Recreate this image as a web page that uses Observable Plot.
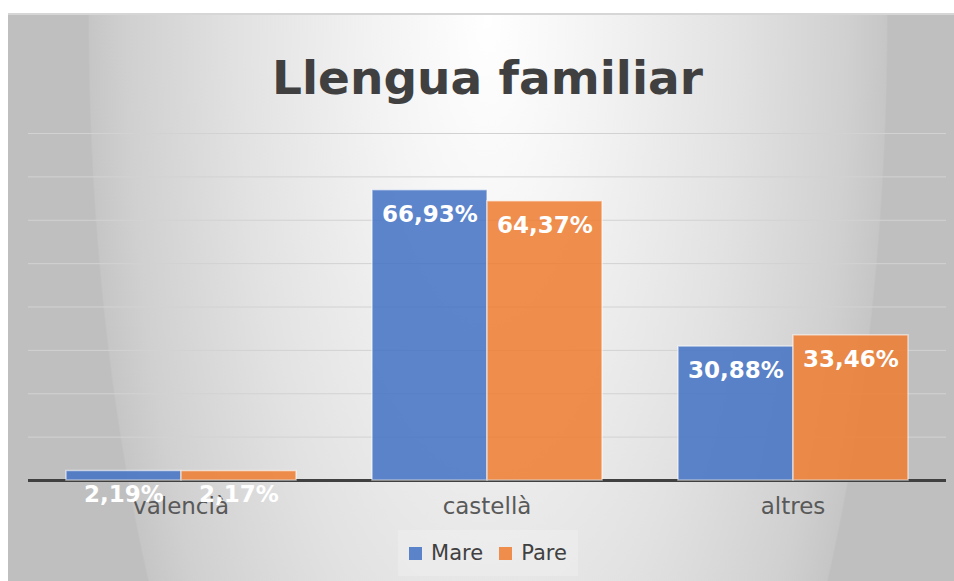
<!DOCTYPE html>
<html>
<head>
<meta charset="utf-8">
<script src="https://cdn.jsdelivr.net/npm/d3@7"></script>
<script src="https://cdn.jsdelivr.net/npm/@observablehq/plot@0.6"></script>
<style>
  html, body { margin: 0; padding: 0; background: #ffffff; }
  body { width: 954px; height: 581px; position: relative; overflow: hidden; font-family: "DejaVu Sans", sans-serif; }
  #bg { position: absolute; left: 8px; top: 13px; width: 946px; height: 568px;
        background: radial-gradient(ellipse 400px 1075px at 480px 1px, #ffffff 0%, #f2f2f2 30%, #e2e2e2 62%, #d0d0d0 90%, #c6c6c6 99.6%, #bfbfbf 100%);
        border-top: 2px solid #d6d6d6; box-sizing: border-box; }
  .layer { position: absolute; left: 0; top: 0; }
  #title { position: absolute; left: 0; width: 975px; top: 48px; text-align: center;
           font-size: 47px; font-weight: bold; color: #404040; line-height: 60px; }
  #legend { position: absolute; left: 398px; top: 530px; width: 180px; height: 46px;
            background: rgba(255,255,255,0.2); display: flex; align-items: center; justify-content: center; gap: 0; }
  .item { display: flex; align-items: center; font-size: 21px; color: #404040; margin: 0 8px; }
  .sw { width: 13px; height: 13px; margin-right: 9px; }
</style>
</head>
<body>
<div id="bg"></div>
<div id="grid" class="layer"></div>
<div id="bars" class="layer"></div>
<div id="title">Llengua familiar</div>
<div id="legend"></div>
<script>
const categories = ["valencià", "castellà", "altres"];
const series = ["Mare", "Pare"];
const mare = [2.19, 66.93, 30.88];
const pare = [2.17, 64.37, 33.46];
const colors = ["#4472C4", "#ED7D31"];
const gridTicks = [10, 20, 30, 40, 50, 60, 70, 80];

const data = [];
categories.forEach((c, i) => {
  data.push({cat: c, series: "Mare", value: mare[i]});
  data.push({cat: c, series: "Pare", value: pare[i]});
});
const fmt = d => d.value.toFixed(2).replace(".", ",") + "%";

const W = 954, H = 581;
const common = {width: W, height: H, marginLeft: 28, marginRight: 8, marginTop: 133, marginBottom: 101};

const grid = Plot.plot({
  ...common,
  style: {background: "transparent"},
  x: {domain: [0, 1], axis: null},
  y: {domain: [0, 80], axis: null},
  marks: [
    Plot.ruleY(gridTicks, {stroke: "#d2d2d2", strokeWidth: 1}),
    Plot.ruleY([0], {stroke: "#404040", strokeWidth: 3})
  ]
});
document.getElementById("grid").appendChild(grid);

const bars = Plot.plot({
  ...common,
  style: {background: "transparent", color: "#595959", fontFamily: "DejaVu Sans, sans-serif"},
  fx: {domain: categories, paddingInner: 0.245, paddingOuter: 0.1225, label: null},
  x: {domain: series, padding: 0, axis: null},
  y: {domain: [0, 80], axis: null},
  color: {domain: series, range: colors},
  marks: [
    Plot.barY(data, {fx: "cat", x: "series", y: "value", fill: "series", fillOpacity: 0.86,
      stroke: "#ffffff", strokeOpacity: 0.55, strokeWidth: 1.5}),
    Plot.axisFx({anchor: "bottom", tickSize: 0, tickPadding: 17, fontSize: 23, label: null}),
    Plot.text(data, {fx: "cat", x: "series", y: "value", text: fmt, dy: 24,
      fill: "#ffffff", fontWeight: "bold", fontSize: 23})
  ]
});
document.getElementById("bars").appendChild(bars);

const legend = document.getElementById("legend");
series.forEach((s, i) => {
  const it = document.createElement("div");
  it.className = "item";
  const sw = document.createElement("div");
  sw.className = "sw";
  sw.style.background = colors[i];
  sw.style.opacity = 0.86;
  it.appendChild(sw);
  it.appendChild(document.createTextNode(s));
  legend.appendChild(it);
});
</script>
</body>
</html>
